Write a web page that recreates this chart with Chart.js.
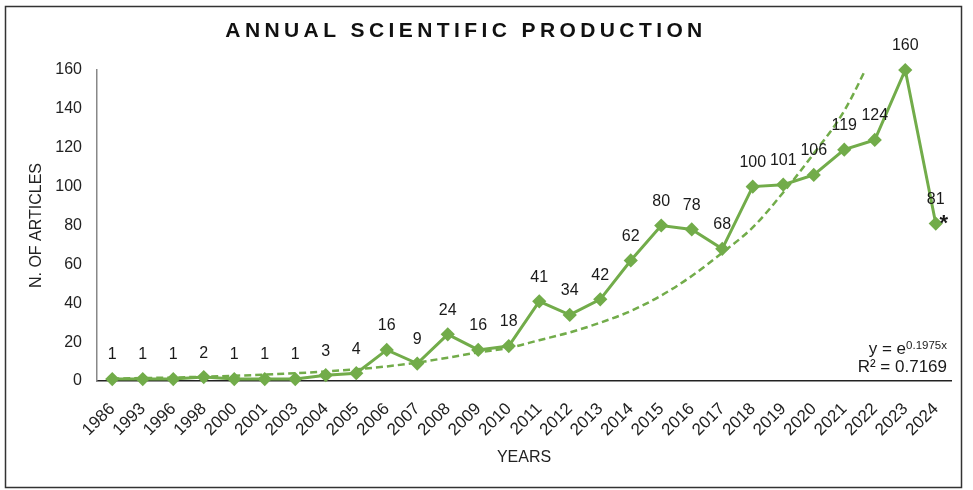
<!DOCTYPE html>
<html>
<head>
<meta charset="utf-8">
<script src="https://cdn.jsdelivr.net/npm/chart.js@4.4.1/dist/chart.umd.min.js"></script>
<style>
  html, body { margin: 0; padding: 0; background: #fff; }
  #wrap { width: 973px; height: 490px; position: relative; }
</style>
</head>
<body>
<div id="wrap"><canvas id="grafico" width="973" height="490"></canvas></div>
<script>
// datos
const years = ['1986', '1993', '1996', '1998', '2000', '2001', '2003', '2004', '2005', '2006',
  '2007', '2008', '2009', '2010', '2011', '2012', '2013', '2014', '2015', '2016',
  '2017', '2018', '2019', '2020', '2021', '2022', '2023', '2024'];
const articles = [1, 1, 1, 2, 1, 1, 1, 3, 4, 16, 9, 24, 16, 18, 41, 34, 42, 62, 80, 78,
  68, 100, 101, 106, 119, 124, 160, 81];
// linea de tendencia (estimada a ojo sobre la imagen)
const trend = [1.2, 1.5, 1.8, 2.2, 2.7, 3.3, 4.0, 4.9, 6, 7.5, 9.5, 12, 14.7, 17, 21,
  25, 30, 36, 44, 54, 66, 79, 97, 117, 139, 170, null, null];
const yTicks = [0, 20, 40, 60, 80, 100, 120, 140, 160];

const GREEN = '#72ac4a';
const FONT = 'Liberation Sans, Arial, sans-serif';

// marco, titulo, etiquetas y ecuacion
const extras = {
  id: 'extras',
  beforeDraw(chart) {
    const ctx = chart.ctx;
    ctx.save();
    ctx.strokeStyle = '#333';
    ctx.lineWidth = 1.5;
    ctx.strokeRect(5.5, 6.5, 956, 481);
    ctx.restore();
  },
  afterDatasetsDraw(chart) {
    const ctx = chart.ctx;
    const meta = chart.getDatasetMeta(0);
    ctx.save();

    // titulo
    ctx.fillStyle = '#111';
    ctx.font = 'bold 21px ' + FONT;
    ctx.letterSpacing = '4.4px';
    ctx.textAlign = 'center';
    ctx.textBaseline = 'middle';
    ctx.fillText('ANNUAL SCIENTIFIC PRODUCTION', 466, 31);
    ctx.letterSpacing = '0px';

    // valores
    ctx.font = '16px ' + FONT;
    ctx.fillStyle = '#1a1a1a';
    meta.data.forEach((p, i) => {
      ctx.fillText(String(articles[i]), p.x, p.y - 24);
    });

    // asterisco
    const last = meta.data[meta.data.length - 1];
    ctx.font = 'bold 22px ' + FONT;
    ctx.fillText('*', last.x + 8, last.y);

    // ecuacion
    ctx.textAlign = 'right';
    ctx.textBaseline = 'alphabetic';
    ctx.font = '11.5px ' + FONT;
    const sup = '0.1975x';
    ctx.fillText(sup, 947, 349);
    const w = ctx.measureText(sup).width;
    ctx.font = '17px ' + FONT;
    ctx.fillText('y = e', 947 - w, 354);
    ctx.fillText('R\u00b2 = 0.7169', 947, 372);
    ctx.restore();
  }
};

new Chart(document.getElementById('grafico'), {
  type: 'line',
  data: {
    labels: years,
    datasets: [{
      label: 'Articles',
      data: articles,
      borderColor: GREEN,
      backgroundColor: GREEN,
      borderWidth: 3,
      pointStyle: 'rectRot',
      pointRadius: 5,
      pointHoverRadius: 5,
      clip: false
    }, {
      label: 'Trend',
      data: trend,
      borderColor: GREEN,
      borderWidth: 2.5,
      borderDash: [7, 4],
      pointRadius: 0,
      cubicInterpolationMode: 'monotone',
      spanGaps: false
    }]
  },
  options: {
    responsive: false,
    animation: false,
    devicePixelRatio: 1,
    layout: { padding: { top: 70, right: 22, left: 5, bottom: 9 } },
    plugins: {
      legend: { display: false },
      tooltip: { enabled: false }
    },
    scales: {
      x: {
        offset: true,
        grid: { display: false, drawTicks: false },
        border: { display: true, color: '#222', width: 1.5 },
        ticks: {
          color: '#222',
          font: { family: FONT, size: 17 },
          minRotation: 45,
          maxRotation: 45,
          autoSkip: false,
          padding: 18
        },
        title: {
          display: true,
          text: 'YEARS',
          color: '#222',
          font: { family: FONT, size: 16 },
          padding: { top: 0, bottom: 14 }
        },
        afterFit(scale) { scale.height = 100; }
      },
      y: {
        min: 0,
        max: 160,
        afterBuildTicks(scale) { scale.ticks = yTicks.map(v => ({ value: v })); },
        grid: { display: false, drawTicks: false },
        border: { display: true, color: '#888', width: 1.5 },
        ticks: {
          color: '#222',
          font: { family: FONT, size: 16 },
          padding: 15
        },
        title: {
          display: true,
          text: 'N. OF ARTICLES',
          color: '#222',
          font: { family: FONT, size: 16 },
          padding: { top: 22, bottom: 0 }
        },
        afterFit(scale) { scale.width = 92; }
      }
    }
  },
  plugins: [extras]
});
</script>
</body>
</html>
